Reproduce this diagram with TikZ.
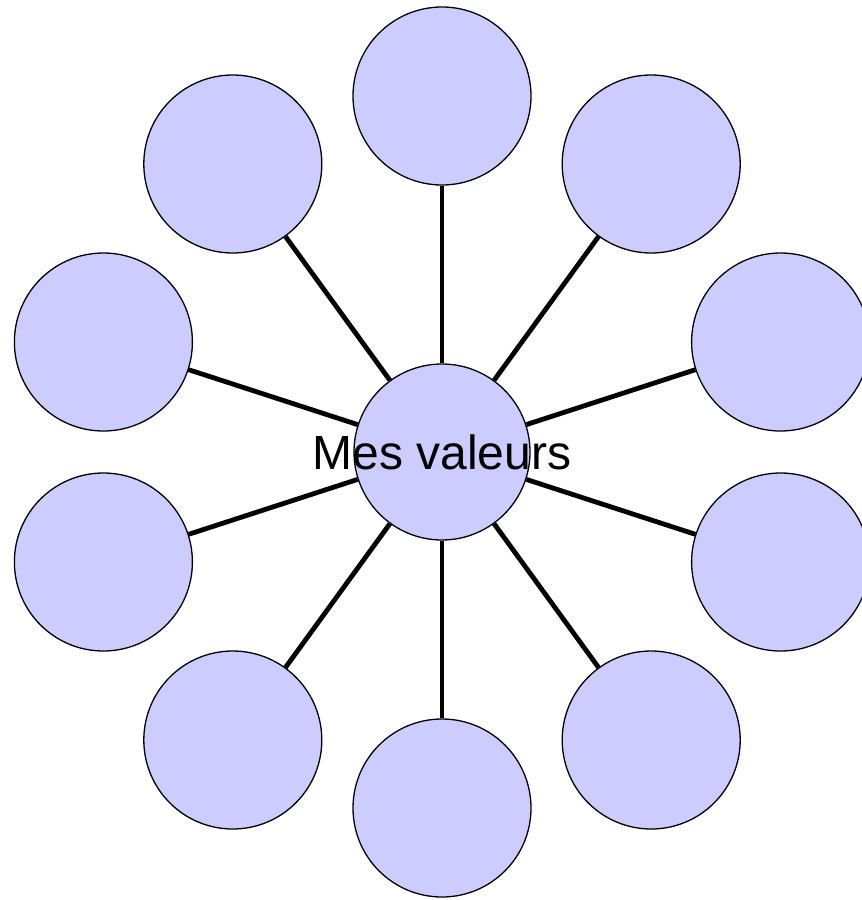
\documentclass[tikz,border=0pt]{standalone}
\usepackage{fontspec}
\setmainfont{Liberation Sans}
\usepackage{xcolor}
\usepackage{tikz}

\definecolor{lavande}{RGB}{204,204,255}

\tikzset{
	valeur/.style={shape=circle, draw=black, line width=1.3pt, fill=lavande, minimum size=178pt, inner sep=0pt},
	rayon/.style={draw=black, line width=4.8pt}
}

\begin{document}
\begin{tikzpicture}[x=1pt, y=1pt]
		\useasboundingbox (0,0) rectangle (862,-900);

		\node[valeur] (v1) at (442,-96) {};
		\node[valeur] (v2) at (651.2,-164) {};
		\node[valeur] (v3) at (780.6,-342) {};
		\node[valeur] (v4) at (780.6,-562) {};
		\node[valeur] (v5) at (651.2,-740) {};
		\node[valeur] (v6) at (442,-808) {};
		\node[valeur] (v7) at (232.8,-740) {};
		\node[valeur] (v8) at (103.4,-562) {};
		\node[valeur] (v9) at (103.4,-342) {};
		\node[valeur] (v10) at (232.8,-164) {};

		\node[valeur, minimum size=176pt] (centre) at (442,-452) {};

		\draw [rayon] (centre) -- (v1);
		\draw [rayon] (centre) -- (v2);
		\draw [rayon] (centre) -- (v3);
		\draw [rayon] (centre) -- (v4);
		\draw [rayon] (centre) -- (v5);
		\draw [rayon] (centre) -- (v6);
		\draw [rayon] (centre) -- (v7);
		\draw [rayon] (centre) -- (v8);
		\draw [rayon] (centre) -- (v9);
		\draw [rayon] (centre) -- (v10);

		% texte par-dessus le cercle central
		\node[font=\fontsize{48}{48}\selectfont] (titre) at (centre) {Mes valeurs};
		
		\end{tikzpicture}
\end{document}
